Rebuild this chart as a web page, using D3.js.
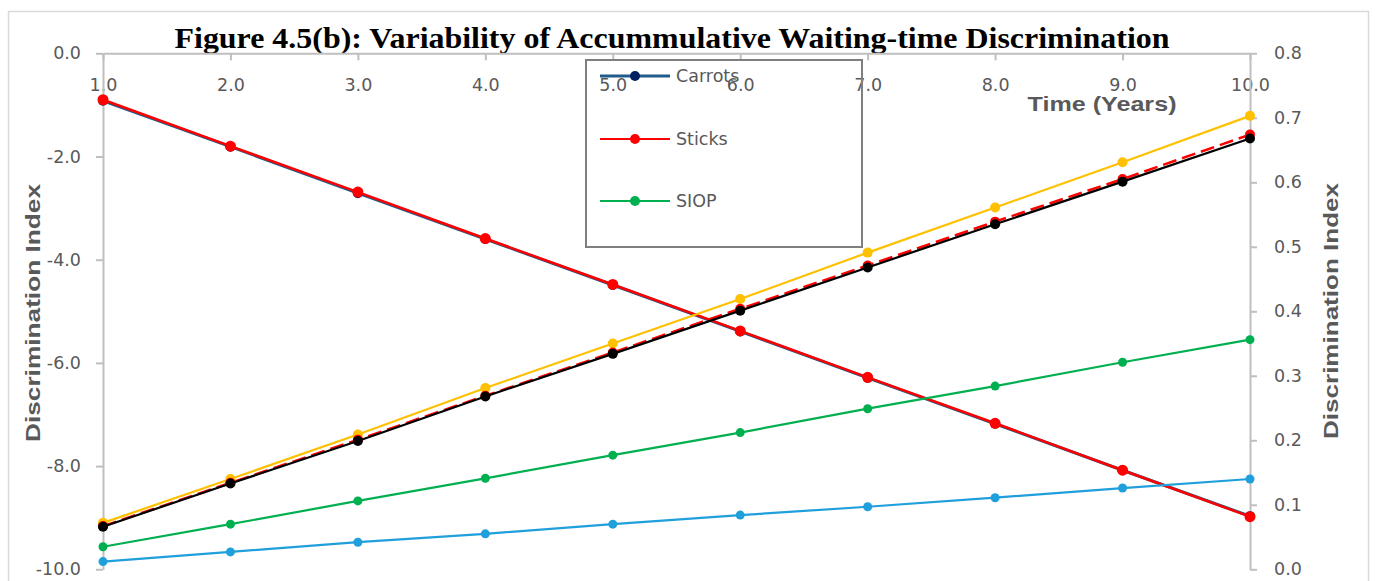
<!DOCTYPE html>
<html>
<head>
<meta charset="utf-8">
<script src="https://cdn.jsdelivr.net/npm/d3@7"></script>
<style>
  html, body { margin: 0; padding: 0; background: #ffffff; }
  svg { display: block; }
</style>
</head>
<body>
<svg id="chart" width="1375" height="581"></svg>
<script>
// Time axis (years)
const years = [1, 2, 3, 4, 5, 6, 7, 8, 9, 10];

// Primary axis series
const carrots = [-0.92, -1.81, -2.71, -3.60, -4.49, -5.39, -6.29, -7.18, -8.08, -8.97];
const sticks  = [-0.90, -1.80, -2.69, -3.59, -4.48, -5.38, -6.28, -7.17, -8.08, -8.98];

// Secondary axis series
const siop        = [0.035, 0.070, 0.106, 0.141, 0.177, 0.212, 0.249, 0.284, 0.321, 0.356];
const seriesSky   = [0.012, 0.027, 0.042, 0.055, 0.070, 0.084, 0.097, 0.111, 0.126, 0.140];
const seriesAmber = [0.072, 0.140, 0.209, 0.281, 0.350, 0.419, 0.491, 0.561, 0.631, 0.703];
const seriesRedDash = [0.067, 0.134, 0.201, 0.269, 0.336, 0.404, 0.471, 0.539, 0.605, 0.674];
const seriesBlack = [0.066, 0.133, 0.199, 0.268, 0.334, 0.401, 0.468, 0.535, 0.601, 0.668];

// Tick values
const leftTicks  = [0, -2, -4, -6, -8, -10];
const rightTicks = [0, 0.1, 0.2, 0.3, 0.4, 0.5, 0.6, 0.7, 0.8];

const titleText = "Figure 4.5(b): Variability of Accummulative Waiting-time Discrimination";
const xTitle = "Time (Years)";
const yTitle = "Discrimination Index";
const legendNames = ["Carrots", "Sticks", "SIOP"];

const svg = d3.select("#chart");
const tickFont = "'DejaVu Sans', sans-serif";
const axisGrey = "#BFBFBF";
const textGrey = "#595959";

// one-decimal labels with a plain hyphen for negatives
const fmt = d3.formatLocale({ decimal: ".", thousands: ",", grouping: [3], currency: ["", ""], minus: "-" }).format(".1f");

const x  = d3.scaleLinear().domain([1, 10]).range([103, 1250]);
const yL = d3.scaleLinear().domain([-10, 0]).range([569.3, 53.3]);
const yR = d3.scaleLinear().domain([0, 0.8]).range([569.3, 53.3]);

// chart frame
svg.append("rect")
  .attr("x", 8.5).attr("y", 11.5).attr("width", 1360).attr("height", 600)
  .attr("fill", "none").attr("stroke", "#D9D9D9").attr("stroke-width", 1.5);

// title
svg.append("text")
  .attr("x", 672).attr("y", 48)
  .attr("text-anchor", "middle")
  .attr("font-family", "'Liberation Serif', 'Times New Roman', serif")
  .attr("font-weight", "bold")
  .attr("font-size", 30)
  .attr("fill", "#000")
  .attr("textLength", 995).attr("lengthAdjust", "spacingAndGlyphs")
  .text(titleText);

function styleAxis(g) {
  g.select(".domain").attr("stroke", axisGrey).attr("stroke-width", 2);
  g.selectAll(".tick line").attr("stroke", axisGrey).attr("stroke-width", 2);
  g.selectAll(".tick text")
    .attr("fill", textGrey)
    .attr("font-family", tickFont)
    .attr("font-size", 17.5);
}

// x axis sits at the top (value 0 of the primary axis)
const gx = svg.append("g")
  .attr("transform", `translate(0,${yL(0)})`)
  .call(d3.axisBottom(x).tickValues(years).tickFormat(fmt).tickSize(7).tickSizeOuter(0));
styleAxis(gx);
gx.selectAll(".tick text").attr("y", 32).attr("dy", "0.35em");

const gl = svg.append("g")
  .attr("transform", `translate(${x(1)},0)`)
  .call(d3.axisLeft(yL).tickValues(leftTicks).tickFormat(fmt).tickSize(7).tickPadding(15).tickSizeOuter(0));
styleAxis(gl);

const gr = svg.append("g")
  .attr("transform", `translate(${x(10)},0)`)
  .call(d3.axisRight(yR).tickValues(rightTicks).tickFormat(fmt).tickSize(7).tickPadding(17).tickSizeOuter(0));
styleAxis(gr);

// axis titles
const titleFont = "'Liberation Sans', Arial, sans-serif";
svg.append("text")
  .attr("x", 1102).attr("y", 111)
  .attr("text-anchor", "middle")
  .attr("font-family", titleFont).attr("font-weight", "bold").attr("font-size", 21)
  .attr("fill", textGrey)
  .attr("textLength", 149).attr("lengthAdjust", "spacingAndGlyphs")
  .text(xTitle);

svg.append("text")
  .attr("transform", `translate(40,313) rotate(-90)`)
  .attr("text-anchor", "middle")
  .attr("font-family", titleFont).attr("font-weight", "bold").attr("font-size", 21)
  .attr("fill", textGrey)
  .attr("textLength", 258).attr("lengthAdjust", "spacingAndGlyphs")
  .text(yTitle);

svg.append("text")
  .attr("transform", `translate(1338,311) rotate(-90)`)
  .attr("text-anchor", "middle")
  .attr("font-family", titleFont).attr("font-weight", "bold").attr("font-size", 21)
  .attr("fill", textGrey)
  .attr("textLength", 256).attr("lengthAdjust", "spacingAndGlyphs")
  .text(yTitle);

// series drawing
function drawSeries(values, yScale, opt) {
  const pts = years.map((yr, i) => [yr, values[i]]);
  const line = d3.line().x(d => x(d[0])).y(d => yScale(d[1]));
  const g = svg.append("g");
  g.append("path")
    .datum(pts)
    .attr("d", line)
    .attr("fill", "none")
    .attr("stroke", opt.color)
    .attr("stroke-width", opt.width)
    .attr("stroke-dasharray", opt.dash || null)
    .attr("stroke-linejoin", "round");
  g.selectAll("circle")
    .data(pts)
    .join("circle")
    .attr("cx", d => x(d[0]))
    .attr("cy", d => yScale(d[1]))
    .attr("r", opt.r)
    .attr("fill", opt.marker || opt.color);
}

drawSeries(carrots, yL, { color: "#1F5C8B", width: 3, r: 5, marker: "#002060" });
drawSeries(sticks, yL, { color: "#FF0000", width: 2.5, r: 5.5 });
drawSeries(siop, yR, { color: "#00B050", width: 2.2, r: 4.5 });
drawSeries(seriesSky, yR, { color: "#1F9FDB", width: 2.2, r: 4.5 });
drawSeries(seriesAmber, yR, { color: "#FFC000", width: 2.2, r: 5 });
drawSeries(seriesRedDash, yR, { color: "#FF0000", width: 2.5, r: 5, dash: "14 6" });
drawSeries(seriesBlack, yR, { color: "#000000", width: 2.2, r: 5 });

// legend
const legend = svg.append("g");
legend.append("rect")
  .attr("x", 586).attr("y", 60).attr("width", 276).attr("height", 187)
  .attr("fill", "none").attr("stroke", "#7F7F7F").attr("stroke-width", 2);

const legendStyle = [
  { color: "#1F5C8B", width: 3, marker: "#002060" },
  { color: "#FF0000", width: 2, marker: "#FF0000" },
  { color: "#00B050", width: 2, marker: "#00B050" }
];
const legendY = [76, 139, 201];
legendNames.forEach((name, i) => {
  const s = legendStyle[i];
  const row = legend.append("g").attr("transform", `translate(0,${legendY[i]})`);
  row.append("line").attr("x1", 600).attr("x2", 670).attr("y1", 0).attr("y2", 0)
    .attr("stroke", s.color).attr("stroke-width", s.width);
  row.append("circle").attr("cx", 635).attr("cy", 0).attr("r", 5).attr("fill", s.marker);
  row.append("text").attr("x", 676).attr("y", 0).attr("dy", "0.35em")
    .attr("font-family", tickFont).attr("font-size", 17.5).attr("fill", textGrey)
    .text(name);
});
</script>
</body>
</html>
